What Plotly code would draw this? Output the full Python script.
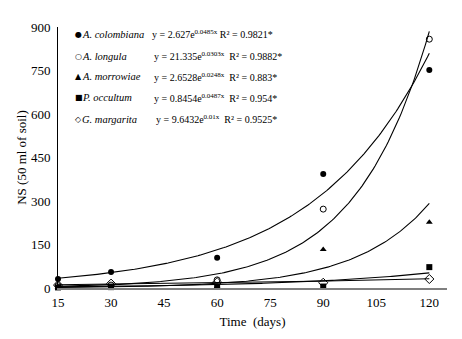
import numpy as np
import plotly.graph_objects as go

days = [15, 30, 60, 90, 120]
species = ["A. colombiana", "A. longula", "A. morrowiae", "P. occultum", "G. margarita"]
colombiana = [31, 55, 104, 393, 752]
longula = [8, 10, 28, 272, 858]
morrowiae = [2, 3, 4, 133, 227]
occultum = [2, 3, 5, 5, 72]
margarita = [10, 15, 20, 18, 31]
coef_a = [2.627, 21.335, 2.6528, 0.8454, 9.6432]
coef_b = [0.0485, 0.0303, 0.0248, 0.0487, 0.01]
coef_a_txt = ["2.627", "21.335", "2.6528", "0.8454", "9.6432"]
coef_b_txt = ["0.0485", "0.0303", "0.0248", "0.0487", "0.01"]
r2_txt = ["0.9821*", "0.9882*", "0.883*", "0.954*", "0.9525*"]
legend_symbols = ["●", "○", "▲", "■", "◇"]
x_ticks = [15, 30, 45, 60, 75, 90, 105, 120]
y_ticks = [0, 150, 300, 450, 600, 750, 900]

series = [colombiana, longula, morrowiae, occultum, margarita]
markers = [
    dict(symbol="circle", color="black", size=6),
    dict(symbol="circle-open", color="black", size=6, line=dict(width=1)),
    dict(symbol="triangle-up", color="black", size=6),
    dict(symbol="square", color="black", size=6),
    dict(symbol="diamond-open", color="black", size=7, line=dict(width=1)),
]

FONT = "Liberation Serif, Times New Roman, serif"
fig = go.Figure()

xs = np.linspace(15, 120, 200)
for a, b in zip(coef_a, coef_b):
    fig.add_trace(go.Scatter(x=xs, y=a * np.exp(b * xs), mode="lines",
                             line=dict(color="black", width=1.1), showlegend=False,
                             hoverinfo="skip"))

for name, vals, mk in zip(species, series, markers):
    fig.add_trace(go.Scatter(x=days, y=vals, mode="markers", marker=mk,
                             name=name, showlegend=False, cliponaxis=False))

# page has 8px body margin
OFF = 8
L, T, W, H = 58 - OFF, 27 - OFF, 389, 261
FW, FH = 462 - OFF, 339 - OFF

def px2paper(px, py):
    return (px - OFF - L) / W, (T + H - (py - OFF)) / H

rows_y = [34, 56, 77, 98, 119]
eq_x = [150, 152, 152, 152, 154]
gaps = ["&nbsp;", "&nbsp;&nbsp;", "&nbsp;&nbsp;", "&nbsp;&nbsp;", "&nbsp;&nbsp;"]
for i in range(5):
    sx, sy = px2paper(73, rows_y[i])
    fig.add_annotation(x=sx, y=sy, xref="paper", yref="paper", xanchor="left", yanchor="middle",
                       text=legend_symbols[i], showarrow=False,
                       font=dict(family="DejaVu Sans", size=8, color="black"))
    nx, ny = px2paper(80, rows_y[i])
    fig.add_annotation(x=nx, y=ny, xref="paper", yref="paper", xanchor="left", yanchor="middle",
                       text="<i>" + species[i] + "</i>", showarrow=False,
                       font=dict(family=FONT, size=10.5, color="black"))
    ex, ey = px2paper(eq_x[i], rows_y[i])
    fig.add_annotation(x=ex, y=ey, xref="paper", yref="paper", xanchor="left", yanchor="middle",
                       text="y = " + coef_a_txt[i] + "e<sup>" + coef_b_txt[i] + "x</sup>"
                            + gaps[i] + "R² = " + r2_txt[i],
                       showarrow=False, font=dict(family=FONT, size=10, color="black"))

fig.update_layout(
    width=FW, height=FH,
    margin=dict(l=L, r=FW - L - W, t=T, b=FH - T - H),
    paper_bgcolor="white", plot_bgcolor="white",
    font=dict(family=FONT, size=13, color="black"),
    xaxis=dict(range=[15, 125], tickvals=x_ticks, showgrid=False, zeroline=False,
               showline=True, linecolor="#7f7f7f", linewidth=1.5, ticks="",
               ticklabelstandoff=2,
               title=dict(text="Time  (days)", font=dict(size=13), standoff=8),
               tickfont=dict(size=13)),
    yaxis=dict(range=[0, 900], tickvals=y_ticks, showgrid=False, zeroline=False,
               showline=True, linecolor="black", linewidth=1, ticks="",
               ticklabelstandoff=4,
               title=dict(text="NS (50 ml of soil)", font=dict(size=13), standoff=1),
               tickfont=dict(size=13)),
)

fig.write_html("out.html")
